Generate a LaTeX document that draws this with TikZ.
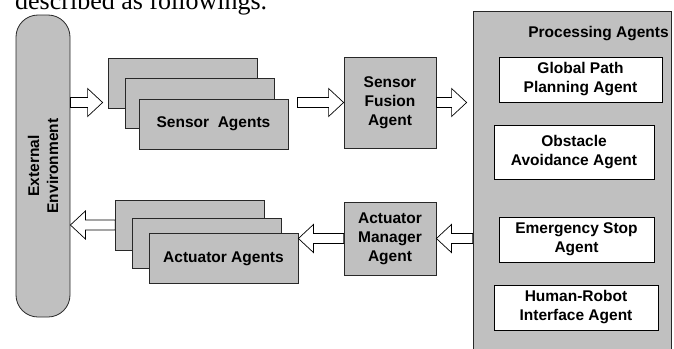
\documentclass[tikz,border=0pt]{standalone}
\usepackage{fontspec}
\usepackage{xcolor}
\usetikzlibrary{calc, positioning}
\newfontfamily\agentsans{Liberation Sans}
\newfontfamily\paperserif{Liberation Serif}
\definecolor{boxgray}{RGB}{192, 192, 192}
\definecolor{edgegray}{RGB}{40, 40, 40}

\begin{document}
\begin{tikzpicture}[x=1pt, y=-1pt,
    agent/.style={rectangle, draw=edgegray, fill=boxgray, line width=0.8pt,
                  inner sep=0pt, align=center,
                  font=\agentsans\bfseries\fontsize{15.5}{19}\selectfont},
    inner/.style={agent, fill=white, draw=black},
    stackbox/.style={agent, minimum width=149pt, minimum height=50pt},
    blockarrow/.style={draw=black, fill=white, line width=0.7pt, to path={
        let \p1=(\tikztostart), \p2=(\tikztotarget), \n1={sign(\x2-\x1)} in
        (\x1,\y1+5pt) -- ({\x2-\n1*15pt},\y1+5pt) -- ({\x2-\n1*15pt},\y1+14pt)
        -- (\x2,\y1) -- ({\x2-\n1*15pt},\y1-14pt) -- ({\x2-\n1*15pt},\y1-5pt)
        -- (\x1,\y1-5pt) -- cycle}}]
    \useasboundingbox (0,0) rectangle (674,348);
    \clip (0,0) rectangle (674,348);

    % Text of the page above the figure
    \node[anchor=base west, inner sep=0pt,
          font=\paperserif\fontsize{26}{30}\selectfont] (caption) at (15,9.5)
        {described as followings.};

    % External environment
    \node[agent, rounded corners=22pt, minimum width=54pt, minimum height=302pt] (env) at (43,166) {};
    \node[rotate=90, align=center, font=\agentsans\bfseries\fontsize{15.5}{19}\selectfont] (envtext) at (env.center)
        {External\\Environment};

    % Sensor agents
    \node[stackbox] (sback) at (182.5,83) {};
    \node[stackbox] (smid) at (199.5,103) {};
    \node[stackbox] (sfront) at (213.5,124) {Sensor\ \ Agents};

    % Sensor fusion
    \node[agent, minimum width=92pt, minimum height=91pt] (fusion) at (390,102.5) {Sensor\\Fusion\\Agent};

    % Processing agents
    \node[agent, minimum width=198pt, minimum height=360pt] (proc) at (572,191) {};
    \node[font=\agentsans\bfseries\fontsize{15.5}{19}\selectfont, inner sep=0pt] (proctitle) at (598.5,34) {Processing Agents};
    \node[inner, minimum width=163pt, minimum height=45pt] (gpath) at (580.5,79.5) {Global Path\\Planning Agent};
    \node[inner, minimum width=160pt, minimum height=54pt] (obst) at (574,152) {Obstacle\\Avoidance Agent};
    \node[inner, minimum width=155pt, minimum height=45pt] (estop) at (576.5,239.5) {Emergency Stop\\Agent};
    \node[inner, minimum width=164pt, minimum height=45pt] (hri) at (576,307.5) {Human-Robot\\Interface Agent};

    % Actuator manager
    \node[agent, minimum width=92pt, minimum height=73pt] (manager) at (390,238.5) {Actuator\\Manager\\Agent};

    % Actuator agents
    \node[stackbox] (aback) at (190,225) {};
    \node[stackbox] (amid) at (206.5,243.5) {};
    \node[stackbox] (afront) at (223.5,258.5) {Actuator Agents};

    % Arrows
    \coordinate (sensin) at ($(sback.west |- fusion.west)+(-5,0)$);
    \coordinate (sensout) at ($(sfront.east |- fusion.west)+(9,0)$);
    \coordinate (procin) at ($(proc.west |- fusion.east)+(-6,0)$);
    \draw[blockarrow] (env.east |- sensin) to (sensin);
    \draw[blockarrow] (sensout) to (fusion.west);
    \draw[blockarrow] (fusion.east) to (procin);
    \draw[blockarrow] (proc.west |- manager.east) to (manager.east);
    \draw[blockarrow] (manager.west) to (afront.east |- manager.west);
    \draw[blockarrow] (aback.west) to (env.east |- aback.west);
\end{tikzpicture}
\end{document}
